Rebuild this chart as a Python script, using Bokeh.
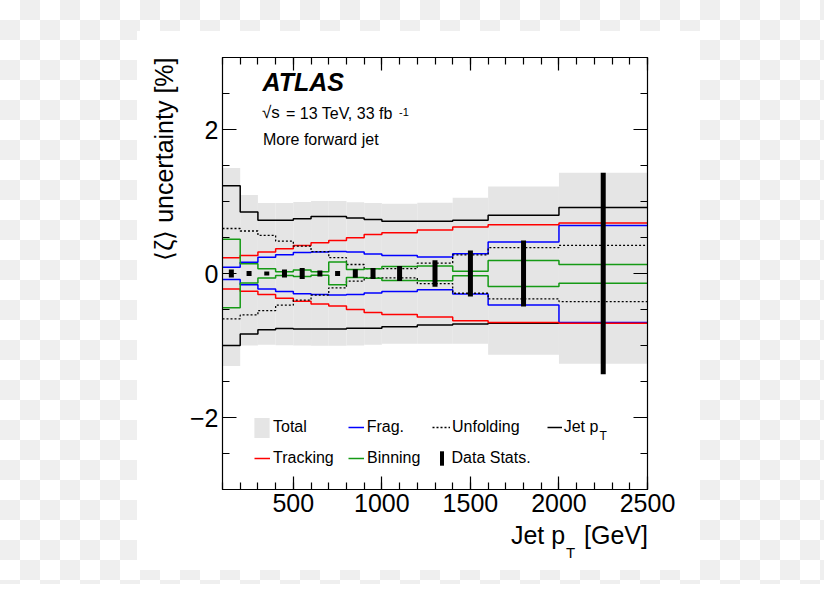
from bokeh.plotting import figure
from bokeh.models import FixedTicker, LinearAxis, Range1d, Label, Legend, LegendItem, Title
from bokeh.embed import file_html
from bokeh.resources import INLINE

# ---------------- data ----------------
bin_edges = [100, 200, 300, 400, 500, 600, 700, 800, 900, 1000, 1200, 1400, 1600, 2000, 2500]

total_up = [1.467, 1.089, 0.978, 0.978, 0.992, 1.006, 1.006, 0.990, 0.980, 0.970, 0.983, 1.053, 1.210, 1.400]
total_dn = [-1.286, -1.000, -0.990, -0.995, -1.000, -1.005, -1.005, -1.000, -0.990, -0.975, -0.975, -0.975, -1.128, -1.253]

jetpt_up = [1.22, 0.855, 0.74, 0.74, 0.76, 0.79, 0.79, 0.77, 0.75, 0.725, 0.725, 0.74, 0.81, 0.915]
jetpt_dn = [-1.00, -0.84, -0.78, -0.765, -0.77, -0.77, -0.77, -0.76, -0.76, -0.74, -0.715, -0.70, -0.69, -0.69]

tracking_up = [0.22, 0.25, 0.297, 0.344, 0.39, 0.427, 0.46, 0.497, 0.543, 0.567, 0.605, 0.645, 0.678, 0.70]
tracking_dn = [-0.215, -0.246, -0.29, -0.344, -0.385, -0.422, -0.45, -0.50, -0.54, -0.57, -0.605, -0.655, -0.68, -0.69]

frag_up = [0.088, 0.157, 0.225, 0.26, 0.29, 0.30, 0.305, 0.30, 0.27, 0.25, 0.23, 0.274, 0.436, 0.668]
frag_dn = [-0.085, -0.157, -0.215, -0.25, -0.28, -0.29, -0.30, -0.29, -0.27, -0.25, -0.227, -0.283, -0.436, -0.68]

binning_up = [0.475, 0.136, 0.067, 0.025, 0.05, 0.025, 0.158, 0.055, 0.065, 0.097, 0.105, 0.03, 0.18, 0.125]
binning_dn = [-0.475, -0.133, -0.064, -0.028, -0.04, -0.025, -0.156, -0.055, -0.065, -0.097, -0.10, -0.03, -0.18, -0.135]

unfolding_up = [0.625, 0.59, 0.53, 0.45, 0.38, 0.305, 0.22, 0.125, 0.067, 0.067, 0.145, 0.26, 0.358, 0.39]
unfolding_dn = [-0.63, -0.575, -0.515, -0.44, -0.37, -0.30, -0.20, -0.105, -0.06, -0.06, -0.14, -0.274, -0.353, -0.39]

data_stats = [0.055, 0.035, 0.027, 0.055, 0.075, 0.04, 0.035, 0.058, 0.075, 0.105, 0.185, 0.32, 0.46, 1.40]

x_major_ticks = [500, 1000, 1500, 2000, 2500]
x_minor_ticks = [100, 200, 300, 400, 500, 600, 700, 800, 900, 1000, 1100, 1200, 1300, 1400, 1500,
                 1600, 1700, 1800, 1900, 2000, 2100, 2200, 2300, 2400, 2500]
y_major_ticks = [-2, 0, 2]
y_minor_ticks = [-3, -2.5, -2, -1.5, -1, -0.5, 0, 0.5, 1, 1.5, 2, 2.5, 3]
y_tick_labels = {-2: "\u22122", 0: "0", 2: "2"}

FONT = "Liberation Sans"
GREY = "#e5e5e5"
RED = "#ff0000"
BLUE = "#0000ff"
GREEN = "#159a15"

W, H = 824, 584
FRAME_L, FRAME_R, FRAME_T, FRAME_B = 222, 647, 57, 489

# ---------------- figure ----------------
bg = ("linear-gradient(#ffffff,#ffffff) 137px 31px / 563px 539px no-repeat, "
      "repeating-conic-gradient(#efefef 0% 25%, #ffffff 0% 50%) 0px 0px / 40px 40px")

p = figure(width=W, height=H, output_backend="svg", toolbar_location=None,
           x_range=Range1d(100, 2500), y_range=Range1d(-3, 3),
           x_axis_location=None, y_axis_location=None,
           min_border_left=FRAME_L, min_border_right=W - FRAME_R,
           min_border_top=FRAME_T, min_border_bottom=H - FRAME_B,
           background_fill_color="white", border_fill_alpha=0,
           outline_line_color="black", styles={"background": bg})
p.grid.visible = False


def dx(px):
    return 100 + (px - FRAME_L) * 2400 / (FRAME_R - FRAME_L)


def dy(py):
    return 3 - (py - FRAME_T) * 6 / (FRAME_B - FRAME_T)


def add_axis(side, major, minor, show, tick_len, overrides=None, size="25px", standoff=4,
             line=True):
    ax = LinearAxis(ticker=FixedTicker(ticks=major, minor_ticks=minor))
    ax.axis_line_color = "black" if line else None
    ax.axis_line_width = 1.2
    ax.major_tick_line_color = "black" if line else None
    ax.minor_tick_line_color = "black" if line else None
    ax.major_tick_line_width = 1.2
    ax.minor_tick_line_width = 1.2
    ax.major_tick_in = tick_len
    ax.major_tick_out = 0
    ax.minor_tick_in = 7 if line else 0
    ax.minor_tick_out = 0
    ax.major_label_text_font = FONT
    ax.major_label_text_font_size = size
    ax.major_label_text_color = "black" if show else None
    ax.major_label_standoff = standoff
    if overrides:
        ax.major_label_overrides = overrides
    p.add_layout(ax, side)
    return ax


add_axis("below", x_major_ticks, x_minor_ticks, True, 13)
add_axis("above", x_major_ticks, x_minor_ticks, False, 13)
add_axis("left", y_major_ticks, y_minor_ticks, True, 14, y_tick_labels)
add_axis("right", y_major_ticks, y_minor_ticks, False, 14)

# x-axis title "Jet p_T [GeV]" as text pieces under the axis (placed along the x scale)
pos_jetp = round(dx(537.6))
pos_gev = round(dx(615.5))
pos_sub = round(dx(570.0))
add_axis("below", [pos_jetp, pos_gev], [], True, 0,
         {pos_jetp: "Jet p", pos_gev: "[GeV]"}, "25px", 6, line=False)
add_axis("below", [pos_sub], [], True, 0, {pos_sub: "T"}, "15px", -8, line=False)

left_edges = bin_edges[:-1]
right_edges = bin_edges[1:]
centers = [(a + b) / 2 for a, b in zip(left_edges, right_edges)]


def step(vals, color, dash="solid", width=1.5):
    return p.step(x=bin_edges, y=list(vals) + [vals[-1]], mode="after",
                  line_color=color, line_width=width, line_dash=dash)


r_total = p.quad(left=left_edges, right=right_edges, bottom=total_dn, top=total_up,
                 fill_color=GREY, line_color=None)
r_jet = step(jetpt_up, "black")
step(jetpt_dn, "black")
r_frag = step(frag_up, BLUE)
step(frag_dn, BLUE)
r_track = step(tracking_up, RED)
step(tracking_dn, RED)
r_unf = step(unfolding_up, "black", "2 2", 1.3)
step(unfolding_dn, "black", "2 2", 1.3)
r_bin = step(binning_up, GREEN)
step(binning_dn, GREEN)
r_stat = p.rect(x=centers, y=[0] * len(centers), width=5, width_units="screen",
                height=[2 * e for e in data_stats], fill_color="black", line_color=None)


# ---------------- legend (one single-item legend per entry) ----------------
def add_legend(label, rend, vx, vy, gw, gh, standoff):
    lg = Legend(items=[LegendItem(label=label, renderers=[rend])], location=(vx, vy),
                glyph_width=gw, glyph_height=gh, label_height=gh, label_standoff=standoff,
                padding=0, margin=0, spacing=0, border_line_color=None,
                background_fill_alpha=0, label_text_font=FONT,
                label_text_font_size="16px", label_text_color="black")
    p.add_layout(lg)


add_legend("Total", r_total, 30, 49.5, 19, 25, 2)
add_legend("Frag.", r_frag, 125.7, 50, 16, 24, 3)
add_legend("Unfolding", r_unf, 210, 50, 18, 24, 2)
add_legend("Jet p", r_jet, 324.7, 50, 15, 24, 2)
add_legend("Tracking", r_track, 32, 19, 16, 24, 3)
add_legend("Binning", r_bin, 126, 19, 16, 24, 3)
add_legend("Data Stats.", r_stat, 216.5, 22, 5, 18, 8)


# ---------------- texts inside the frame (data units) ----------------
def text(s, px, py, size, style="normal", align="left"):
    p.add_layout(Label(x=dx(px), y=dy(py), text=s, text_font=FONT, text_font_size=size,
                       text_font_style=style, text_align=align, text_color="black"))


text("ATLAS", 262, 95, "25px", "bold italic")
text("\u221as", 261.5, 121.7, "17px")
text("= 13 TeV, 33 fb", 285.5, 121.7, "16px")
text("-1", 398.5, 115, "11px")
text("More forward jet", 262.5, 147.3, "16px")
text("T", 599, 442, "12px")

# ---------------- y axis title ----------------
ytitle = Title(text="\u27e8\u03b6\u27e9 uncertainty [%]", align="right", text_font=FONT,
               text_font_size="25px", text_font_style="normal", text_color="black",
               standoff=18)
p.add_layout(ytitle, "left")

open("out.html", "w").write(file_html(p, INLINE))
